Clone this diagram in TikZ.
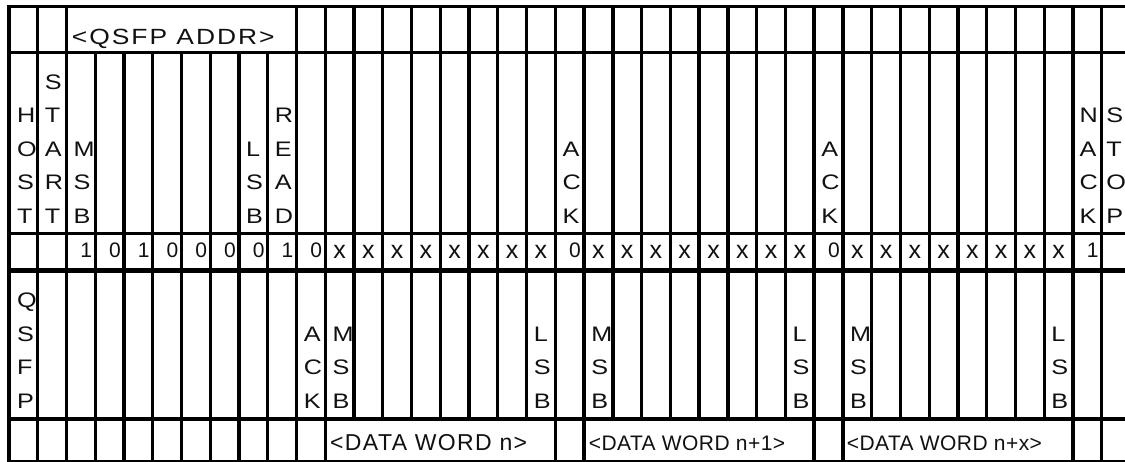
\documentclass[tikz,border=0pt]{standalone}
\usepackage{fontspec}
\setmainfont{Liberation Sans}
\definecolor{txt}{HTML}{111111}
\newcommand\colw{28.755}
\tikzset{
  vline/.style={line width=3.3pt, black},
  hline/.style={line width=#1, black},
  stack/.style={anchor=south west, inner sep=0pt, align=left, text=txt,
                font=\fontsize{21}{33.4}\selectfont\addfontfeature{FakeStretch=1.2}},
  bitnum/.style={anchor=base east, inner sep=0pt, text=txt,
                font=\fontsize{21}{25}\selectfont},
  bitx/.style={anchor=base, inner sep=0pt, text=txt,
                font=\fontsize{25}{25}\selectfont},
  hdr/.style={anchor=base west, inner sep=0pt, text=txt}
}
\begin{document}
\begin{tikzpicture}[x=1pt, y=-1pt]
\useasboundingbox (0,0) rectangle (1125,462);
\fill[white] (0,0) rectangle (1125,462);

% vertical lines
\foreach \i in {0,1,2,10,11,...,38}
  \draw[vline] ({9+\colw*\i},7) -- ({9+\colw*\i},53);
\foreach \i in {0,1,...,38}
  \draw[vline] ({9+\colw*\i},53) -- ({9+\colw*\i},419);
\foreach \i in {0,1,...,11,19,20,28,29,37,38}
  \draw[vline] ({9+\colw*\i},419) -- ({9+\colw*\i},468);

% horizontal lines
\draw[hline=3.3pt] (7.3,6.7) -- (1135,6.7);
\draw[hline=3.5pt] (7.3,52.3) -- (1135,52.3);
\draw[hline=3pt] (7.3,233.6) -- (1135,233.6);
\draw[hline=5.4pt] (7.3,270.5) -- (1135,270.5);
\draw[hline=4.2pt] (7.3,418.7) -- (1135,418.7);
\draw[hline=3pt] (7.3,461.5) -- (1135,461.5);

% header texts
\node[hdr, font={\fontsize{22}{22}\selectfont\addfontfeature{FakeStretch=1.2,LetterSpace=9}}] (addr) at (71.7,45) {<QSFP ADDR>};
\node[hdr, font={\fontsize{23}{23}\selectfont\addfontfeature{LetterSpace=6}}] (dwn) at (330,450) {<DATA WORD n>};
\node[hdr, font={\fontsize{21}{21}\selectfont\addfontfeature{LetterSpace=2}}] (dwn1) at (588.7,450) {<DATA WORD n+1>};
\node[hdr, font={\fontsize{21}{21}\selectfont\addfontfeature{LetterSpace=2}}] (dwnx) at (846.7,450) {<DATA WORD n+x>};

% row 2 stacks (host side)
\node[stack] (host)  at ({9+\colw*0+8.0},223.3) {H\\O\\S\\T};
\node[stack] (start) at ({9+\colw*1+7.0},223.3) {S\\T\\A\\R\\T};
\node[stack] (amsb)  at ({9+\colw*2+7.0},223.3) {M\\S\\B};
\node[stack] (alsb)  at ({9+\colw*8+7.0},223.3) {L\\S\\B};
\node[stack] (read)  at ({9+\colw*9+7.0},223.3) {R\\E\\A\\D};
\node[stack] (hack1) at ({9+\colw*19+7.0},223.3) {A\\C\\K};
\node[stack] (hack2) at ({9+\colw*28+7.0},223.3) {A\\C\\K};
\node[stack] (nack)  at ({9+\colw*37+6.5},223.3) {N\\A\\C\\K};
\node[stack] (stop)  at ({9+\colw*38+4.5},223.3) {S\\T\\O\\P};

% row 4 stacks (QSFP side)
\node[stack] (qsfp)  at ({9+\colw*0+8.0},408.3) {Q\\S\\F\\P};
\node[stack] (qack)  at ({9+\colw*10+7.0},408.3) {A\\C\\K};
\node[stack] (msbn)  at ({9+\colw*11+7.0},408.3) {M\\S\\B};
\node[stack] (lsbn)  at ({9+\colw*18+7.0},408.3) {L\\S\\B};
\node[stack] (msbn1) at ({9+\colw*20+7.0},408.3) {M\\S\\B};
\node[stack] (lsbn1) at ({9+\colw*27+7.0},408.3) {L\\S\\B};
\node[stack] (msbnx) at ({9+\colw*29+7.0},408.3) {M\\S\\B};
\node[stack] (lsbnx) at ({9+\colw*36+7.0},408.3) {L\\S\\B};

% row 3 bits
\foreach \k/\v in {3/1,4/0,5/1,6/0,7/0,8/0,9/0,10/1,11/0,20/0,29/0,38/1}
  \node[bitnum] (b\k) at ({9+\colw*\k-3},257.5) {\v};
\foreach \k in {12,...,19,21,22,...,28,30,31,...,37}
  \node[bitx] (b\k) at ({9+\colw*(\k-0.5)},259) {x};
\end{tikzpicture}
\end{document}
